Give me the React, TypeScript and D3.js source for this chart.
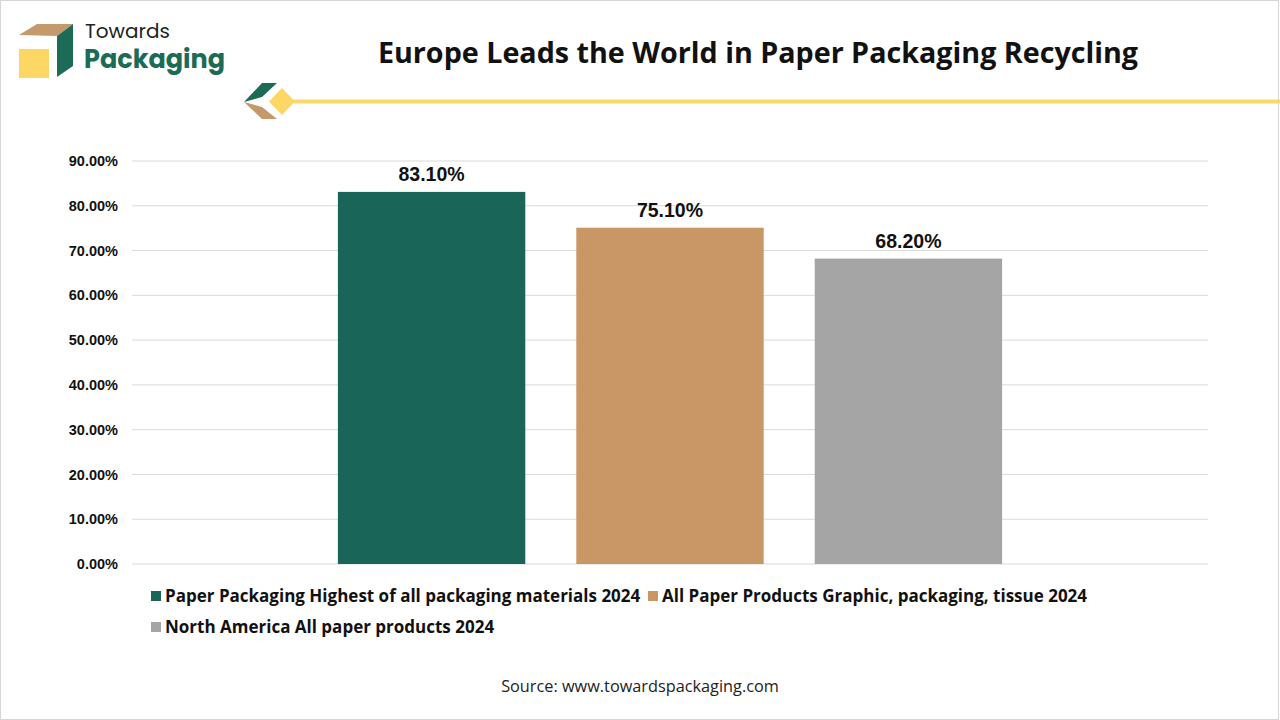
import { useEffect } from "react";
import * as d3 from "d3";

const CATEGORY = ["2024"];
const SERIES = [
  "Paper Packaging Highest of all packaging materials 2024",
  "All Paper Products Graphic, packaging, tissue 2024",
  "North America All paper products 2024",
];
const VALUES = [83.1, 75.1, 68.2];
const COLORS = ["#196558", "#c99766", "#a5a5a5"];
const Y_TICKS = [0, 10, 20, 30, 40, 50, 60, 70, 80, 90];

const W = 1280;
const H = 720;
const mg = { l: 132, r: 72, t: 161, b: 156 };

export default function App() {
  useEffect(() => {
    document.body.style.margin = "0";
  }, []);

  const x0 = d3.scaleBand().domain(CATEGORY).range([mg.l, W - mg.r]).paddingInner(0).paddingOuter(0.31);
  const x1 = d3.scaleBand().domain(SERIES).range([0, x0.bandwidth()]).paddingInner(0.214).paddingOuter(0);
  const y = d3.scaleLinear().domain([0, 90]).range([H - mg.b, mg.t]);

  const tickFont = "'Liberation Sans', Arial, sans-serif";
  const uiFont = "'Open Sans', 'Noto Sans', sans-serif";

  // legend positions (two items on the first row, one on the second)
  const legendPos = [
    { x: 151, y: 602 },
    { x: 648, y: 602 },
    { x: 151, y: 633 },
  ];

  return (
    <svg width={W} height={H} style={{ display: "block", background: "#fff" }}>
      <rect x={0.5} y={0.5} width={W - 2} height={H - 1} fill="#fff" stroke="#d6d6d6" />

      {/* logo */}
      <g>
        <polygon points="19,35 37,24 73,24 57,36" fill="#c49a6c" />
        <polygon points="57,36 73,24 73,66 57,77" fill="#1b6b56" />
        <rect x={19} y={49} width={30} height={29} fill="#fdd663" />
        <text x={85} y={38} fontFamily="Poppins, 'Open Sans', sans-serif" fontSize={20} fill="#222">Towards</text>
        <text x={84} y={68} fontFamily="Poppins, 'Open Sans', sans-serif" fontSize={25.5} fontWeight={700} fill="#1b6b56">Packaging</text>
      </g>

      {/* decorative line */}
      <g>
        <line x1={290} x2={W} y1={101.5} y2={101.5} stroke="#f9d96a" strokeWidth={4} />
        <polygon points="262,83 277,83 262,97 244,102" fill="#1b6b56" />
        <polygon points="244,102 262,107 277,119 262,119" fill="#c49a6c" />
        <polygon points="282,88 295,101.5 282,115 269,101.5" fill="#fdd663" />
      </g>

      <text x={758} y={63} textAnchor="middle" fontFamily={uiFont} fontWeight={700} fontSize={28.7} fill="#111">
        Europe Leads the World in Paper Packaging Recycling
      </text>

      {/* grid + y ticks */}
      {Y_TICKS.map(t => (
        <g key={t}>
          <line x1={mg.l} x2={W - mg.r} y1={y(t)} y2={y(t)} stroke="#d9d9d9" strokeWidth={1} />
          <text x={118} y={y(t)} dy="0.35em" textAnchor="end" fontFamily={tickFont} fontWeight={700} fontSize={14.5} fill="#111">
            {t.toFixed(2)}%
          </text>
        </g>
      ))}

      {/* bars */}
      {CATEGORY.map(c => (
        <g key={c} transform={`translate(${x0(c)},0)`}>
          {SERIES.map((s, i) => (
            <g key={s}>
              <rect x={x1(s)} y={y(VALUES[i])} width={x1.bandwidth()} height={y(0) - y(VALUES[i])} fill={COLORS[i]} />
              <text x={(x1(s) as number) + x1.bandwidth() / 2} y={y(VALUES[i]) - 11} textAnchor="middle"
                fontFamily={tickFont} fontWeight={700} fontSize={19.5} fill="#111">
                {VALUES[i].toFixed(2)}%
              </text>
            </g>
          ))}
        </g>
      ))}

      {/* legend */}
      {legendPos.map((p, i) => (
        <g key={i}>
          <rect x={p.x} y={p.y - 11} width={10} height={10} fill={COLORS[i]} />
          <text x={p.x + 14} y={p.y} fontFamily={uiFont} fontWeight={700} fontSize={17} fill="#111">
            {SERIES[i]}
          </text>
        </g>
      ))}

      <text x={640} y={692} textAnchor="middle" fontFamily={uiFont} fontSize={16.3} fill="#222">
        Source: www.towardspackaging.com
      </text>
    </svg>
  );
}
